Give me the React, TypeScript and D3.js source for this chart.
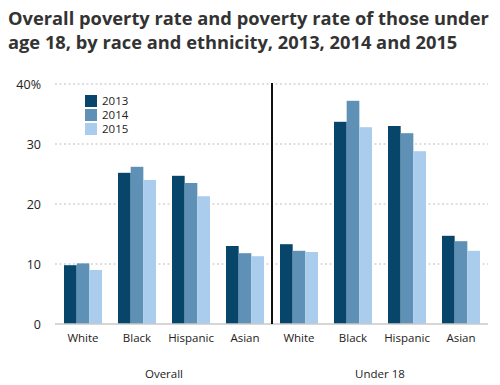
import React from 'react';
import * as d3 from 'd3';

const groups = ['Overall', 'Under 18'];
const races = ['White', 'Black', 'Hispanic', 'Asian'];
const years = ['2013', '2014', '2015'];

const values2013 = [9.8, 25.2, 24.7, 13.0, 13.3, 33.7, 33.0, 14.7];
const values2014 = [10.1, 26.2, 23.5, 11.8, 12.2, 37.2, 31.8, 13.8];
const values2015 = [9.0, 24.0, 21.3, 11.3, 12.0, 32.8, 28.8, 12.2];

const yTicks = [0, 10, 20, 30, 40];
const colors = ['#07466a', '#5e91b5', '#aacdee'];

const series = [values2013, values2014, values2015];

const App = () => {
  const width = 500;
  const height = 385;
  const font = "'Open Sans', sans-serif";

  // one band per race within each group
  const cats = groups.flatMap(g => races.map(r => `${g}|${r}`));

  const x = d3.scaleBand<string>()
    .domain(cats)
    .range([56, 488])
    .paddingInner(0.296)
    .paddingOuter(0.148);

  const xSub = d3.scaleBand<string>()
    .domain(years)
    .range([0, x.bandwidth()]);

  const y = d3.scaleLinear().domain([0, 40]).range([324, 84]);

  const groupCenter = (g: string) => {
    const first = x(`${g}|${races[0]}`)!;
    const last = x(`${g}|${races[races.length - 1]}`)! + x.bandwidth();
    return (first + last) / 2;
  };

  const dividerX = (x(`${groups[0]}|${races[3]}`)! + x.bandwidth() + x(`${groups[1]}|${races[0]}`)!) / 2;

  return (
    <svg width={width} height={height} style={{ position: 'absolute', left: 0, top: 0 }}>
      <rect width={width} height={height} fill="#fff" />
      <text x={8} y={25} fontFamily={font} fontWeight={700} fontSize={18.3} fill="#333">
        Overall poverty rate and poverty rate of those under
      </text>
      <text x={8} y={49} fontFamily={font} fontWeight={700} fontSize={18.3} fill="#333">
        age 18, by race and ethnicity, 2013, 2014 and 2015
      </text>

      {yTicks.map(t => (
        <g key={t}>
          {t > 0 && (
            <line x1={55} x2={488} y1={y(t)} y2={y(t)} stroke="#d4d4d4" strokeWidth={1.3} strokeDasharray="2,2.5" />
          )}
          <text x={41} y={y(t) + 4.5} textAnchor="end" fontFamily={font} fontSize={12.5} fill="#222">
            {t === 40 ? '40%' : t}
          </text>
        </g>
      ))}

      {cats.map((c, i) => (
        <g key={c} transform={`translate(${x(c)},0)`}>
          {series.map((s, j) => (
            <rect
              key={j}
              x={xSub(years[j])}
              y={y(s[i])}
              width={xSub.bandwidth()}
              height={y(0) - y(s[i])}
              fill={colors[j]}
            />
          ))}
          <text x={x.bandwidth() / 2} y={342} textAnchor="middle" fontFamily={font} fontSize={11.5} fill="#222">
            {c.split('|')[1]}
          </text>
        </g>
      ))}

      <line x1={55} x2={488} y1={y(0)} y2={y(0)} stroke="#c8c8c8" strokeWidth={1.5} />
      <line x1={dividerX} x2={dividerX} y1={83} y2={324} stroke="#111" strokeWidth={2} />

      {groups.map(g => (
        <text key={g} x={groupCenter(g)} y={378} textAnchor="middle" fontFamily={font} fontSize={11.5} fill="#222">
          {g}
        </text>
      ))}

      {years.map((yr, j) => (
        <g key={yr} transform={`translate(85,${95 + j * 14})`}>
          <rect width={12} height={12} fill={colors[j]} />
          <text x={17} y={10} fontFamily={font} fontSize={11.5} fill="#222">{yr}</text>
        </g>
      ))}
    </svg>
  );
};

export default App;
